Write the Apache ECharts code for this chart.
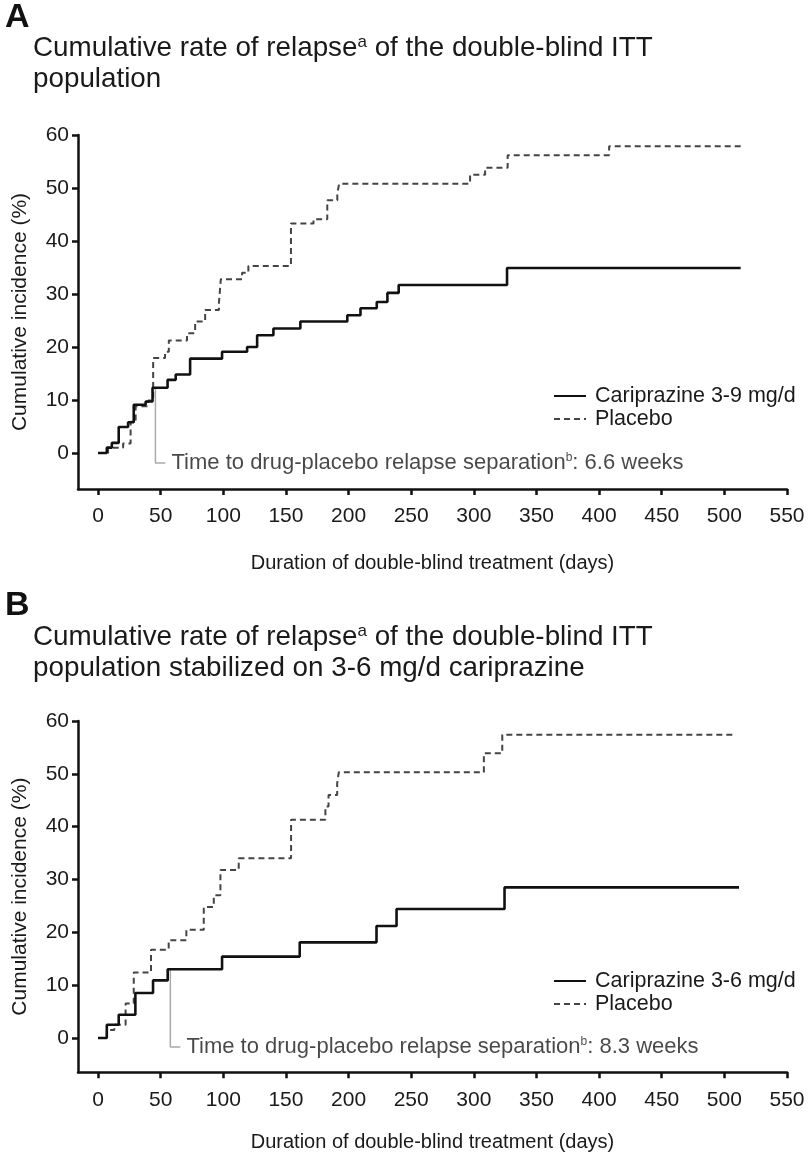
<!DOCTYPE html>
<html>
<head>
<meta charset="utf-8">
<script src="https://cdn.jsdelivr.net/npm/echarts@6/dist/echarts.min.js"></script>
<style>
html,body{margin:0;padding:0;background:#fff;}
#c{width:808px;height:1152px;}
</style>
</head>
<body>
<div id="c"></div>
<script>
// ---------- Data ----------
const xTicks = [0, 50, 100, 150, 200, 250, 300, 350, 400, 450, 500, 550];
const yTicks = [0, 10, 20, 30, 40, 50, 60];

// Panel A: Cariprazine 3-9 mg/d
const daysA_carip = [0, 7, 11, 16.5, 24, 28.5, 38, 43.5, 55.5, 62, 73.5, 99, 119, 127, 140, 161.5, 199, 209.5, 222.5, 231, 240, 326.5, 513];
const valsA_carip = [0, 1, 1.9, 4.9, 5.8, 9.1, 9.7, 12.3, 13.8, 14.8, 17.8, 19.1, 20.0, 22.2, 23.5, 24.8, 26.0, 27.3, 28.5, 30.2, 31.7, 34.9, 34.9];
// Panel A: Placebo
const daysA_plac = [0, 8, 20, 26, 30, 40, 44, 53.5, 56.5, 71, 77.5, 85.5, 96.5, 98, 115, 120, 154, 172, 183, 191, 192.5, 297, 309, 327, 408, 515];
const valsA_plac = [0, 1, 1.8, 5.9, 8.8, 9.9, 17.9, 19.1, 21.2, 22.6, 24.8, 27.0, 28.3, 32.8, 34.0, 35.3, 43.3, 44.1, 47.7, 49.0, 50.8, 52.5, 53.8, 56.2, 57.9, 57.9];

// Panel B: Cariprazine 3-6 mg/d
const daysB_carip = [0, 7, 16.5, 29.8, 43.9, 55.6, 99, 161, 222.3, 238.3, 324.5, 511.7];
const valsB_carip = [0, 2.5, 4.4, 8.5, 10.9, 13.0, 15.4, 18.1, 21.2, 24.4, 28.5, 28.5];
// Panel B: Placebo
const daysB_plac = [0, 7, 13, 22, 28.5, 42.3, 56.4, 70.5, 84.4, 92.4, 97.7, 112.3, 154.1, 181.5, 184, 190.9, 192.2, 308, 322.7, 509];
const valsB_plac = [0, 1.5, 2.5, 6.5, 12.4, 16.7, 18.5, 20.5, 24.8, 27.0, 31.8, 34.0, 41.3, 43.8, 46.0, 48.2, 50.3, 53.9, 57.4, 57.4];

// Separation annotations (day of separation, value at top of connector)
const sepA = {day: 45.8, top: 12.3, bottom: -1.9, end: 53.8, text: '6.6 weeks'};
const sepB = {day: 57.7, top: 13.0, bottom: -1.7, end: 65.7, text: '8.3 weeks'};

const titleA1 = 'Cumulative rate of relapse';
const titleA2 = ' of the double-blind ITT';
const titleA3 = 'population';
const titleB3 = 'population stabilized on 3-6 mg/d cariprazine';
const xName = 'Duration of double-blind treatment (days)';
const yName = 'Cumulative incidence (%)';
const nameCA = 'Cariprazine 3-9 mg/d';
const nameCB = 'Cariprazine 3-6 mg/d';
const namePl = 'Placebo';

// ---------- Build ----------
const pair = (xs, ys) => xs.map((x, i) => [x, ys[i]]);
const FONT = 'Liberation Sans, Arial, Helvetica, sans-serif';
const TXT = '#1a1a1a';

function xAxis(gi, gap) {
  return {
    gridIndex: gi, type: 'value', min: -16, max: 550,
    name: xName, nameLocation: 'middle', nameGap: gap,
    nameTextStyle: {fontFamily: FONT, fontSize: 20, color: TXT},
    axisLine: {show: true, onZero: false, lineStyle: {color: '#111', width: 2.5}},
    axisTick: {show: true, customValues: xTicks, length: 6, lineStyle: {color: '#111', width: 2.5}},
    axisLabel: {customValues: xTicks, fontFamily: FONT, fontSize: 21, color: TXT, margin: 17},
    splitLine: {show: false}
  };
}
function yAxis(gi, mn) {
  return {
    gridIndex: gi, type: 'value', min: mn, max: 60,
    name: yName, nameLocation: 'middle', nameGap: 47, nameRotate: 90,
    nameTextStyle: {fontFamily: FONT, fontSize: 21, color: TXT},
    axisLine: {show: true, onZero: false, lineStyle: {color: '#111', width: 2.5}},
    axisTick: {show: true, customValues: yTicks, length: 6, lineStyle: {color: '#111', width: 2.5}},
    axisLabel: {customValues: yTicks, fontFamily: FONT, fontSize: 21, color: TXT, margin: 9},
    splitLine: {show: false}
  };
}
function kmSeries(name, gi, xs, ys, dashed) {
  return {
    name: name, type: 'line', step: 'end', xAxisIndex: gi, yAxisIndex: gi,
    data: pair(xs, ys), symbol: 'none', animation: false,
    lineStyle: dashed ? {color: '#444', width: 2, type: [6, 4]} : {color: '#111', width: 2.6},
    itemStyle: {color: dashed ? '#444' : '#111'},
    z: dashed ? 3 : 4
  };
}
function sepSeries(gi, s) {
  return [{
    type: 'line', xAxisIndex: gi, yAxisIndex: gi, symbol: 'none', animation: false,
    data: [[s.day, s.top], [s.day, s.bottom], [s.end, s.bottom]],
    lineStyle: {color: '#aaa', width: 1.5}, z: 2, silent: true
  }, {
    type: 'scatter', xAxisIndex: gi, yAxisIndex: gi, symbolSize: 0.1, animation: false,
    itemStyle: {color: 'transparent'}, silent: true,
    data: [[s.end, s.bottom]],
    label: {
      show: true, position: 'right', distance: 6,
      formatter: '{t|Time to drug-placebo relapse separation}{s|b}{t|: ' + s.text + '}',
      rich: {
        t: {fontFamily: FONT, fontSize: 22, color: TXT},
        s: {fontFamily: FONT, fontSize: 12, color: TXT, verticalAlign: 'top', padding: [0, 0, 8, 0]}
      }
    }
  }];
}
function titleRich() {
  return {
    t: {fontFamily: FONT, fontSize: 27.8, fontWeight: 'normal', color: TXT, lineHeight: 31},
    s: {fontFamily: FONT, fontSize: 17, fontWeight: 'normal', color: TXT, padding: [0, 0, 12, 0], lineHeight: 31}
  };
}
function legend(name, top) {
  return {
    data: [name, namePl], orient: 'vertical', left: 548, top: top, itemWidth: 32, itemHeight: 12, itemGap: 1,
    itemStyle: {color: 'transparent', borderColor: 'transparent', borderWidth: 0},
    textStyle: {fontFamily: FONT, fontSize: 21.5, color: TXT, padding: [0, 0, 0, 4]}, selectedMode: false
  };
}

const chart = echarts.init(document.getElementById('c'), null, {renderer: 'canvas'});
chart.setOption({
  backgroundColor: '#fff',
  animation: false,
  title: [
    {text: 'A', left: 0, top: -4, textStyle: {fontFamily: FONT, fontSize: 34, fontWeight: 'bold', color: '#111'}},
    {text: '{t|' + titleA1 + '}{s|a}{t|' + titleA2 + '}\n{t|' + titleA3 + '}', left: 28, top: 28,
     textStyle: {fontWeight: 'normal', rich: titleRich()}},
    {text: 'B', left: 0, top: 584, textStyle: {fontFamily: FONT, fontSize: 34, fontWeight: 'bold', color: '#111'}},
    {text: '{t|' + titleA1 + '}{s|a}{t|' + titleA2 + '}\n{t|' + titleB3 + '}', left: 28, top: 617,
     textStyle: {fontWeight: 'normal', rich: titleRich()}}
  ],
  legend: [legend(nameCA, 380), legend(nameCB, 965)],
  grid: [
    {left: 78, width: 709, top: 135, height: 354, containLabel: false, outerBoundsMode: 'none'},
    {left: 78, width: 709, top: 721, height: 351.3, containLabel: false, outerBoundsMode: 'none'}
  ],
  xAxis: [xAxis(0, 64), xAxis(1, 60)],
  yAxis: [yAxis(0, -6.8), yAxis(1, -6.5)],
  series: [
    kmSeries(namePl, 0, daysA_plac, valsA_plac, true),
    kmSeries(nameCA, 0, daysA_carip, valsA_carip, false),
    ...sepSeries(0, sepA),
    kmSeries(namePl, 1, daysB_plac, valsB_plac, true),
    kmSeries(nameCB, 1, daysB_carip, valsB_carip, false),
    ...sepSeries(1, sepB)
  ]
});
</script>
</body>
</html>
